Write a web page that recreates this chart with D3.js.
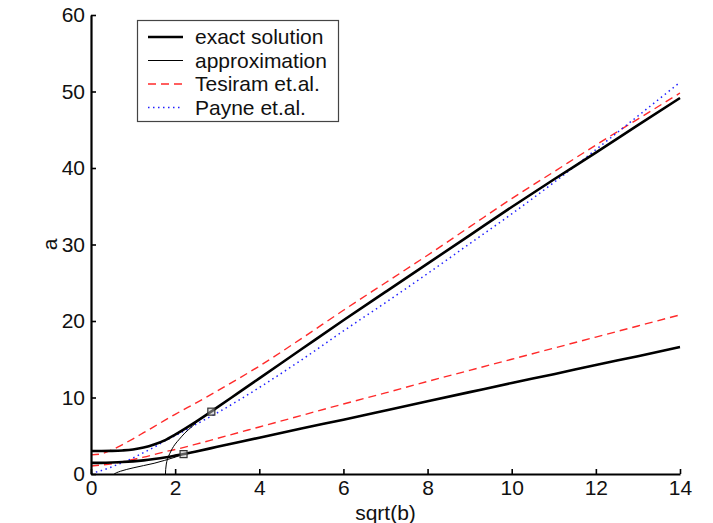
<!DOCTYPE html>
<html><head><meta charset="utf-8">
<script src="https://cdn.jsdelivr.net/npm/d3@7"></script>
<style>
html,body{margin:0;padding:0;background:#fff;}
svg{display:block;font-family:"Liberation Sans",Arial,Helvetica,sans-serif;}
</style></head><body>
<svg id="chart" width="713" height="523"></svg>
<script>
// ---- data ----
const sqrtB = [0,0.25,0.5,0.75,1,1.25,1.5,1.75,2,2.5,3,3.5,4,5,6,7,8,9,10,11,12,13,14];
const exactUpper   = [3.0,3.0,3.02,3.08,3.2,3.45,3.85,4.4,5.15,6.85,8.7,10.6,12.5,16.3,20.1,23.8,27.5,31.2,34.9,38.5,42.0,45.6,49.15];
const exactLower   = [1.45,1.46,1.5,1.56,1.65,1.78,1.95,2.15,2.4,2.95,3.55,4.15,4.75,5.95,7.1,8.3,9.5,10.7,11.9,13.05,14.25,15.4,16.6];
const tesiramUpper = [2.5,2.65,3.15,3.85,4.6,5.4,6.2,7.0,7.8,9.3,10.85,12.45,14.1,17.7,21.4,25.0,28.6,32.3,36.0,39.5,43.0,46.4,49.8];
const tesiramLower = [1.05,1.18,1.35,1.6,1.9,2.2,2.55,2.9,3.2,3.9,4.65,5.4,6.15,7.65,9.15,10.6,12.1,13.55,15.0,16.45,17.9,19.35,20.8];
const payne        = [0.1,0.45,0.95,1.5,2.1,2.8,3.5,4.3,5.0,6.5,8.0,9.6,11.3,14.9,18.7,22.4,26.2,30.1,34.0,38.1,42.4,46.8,51.2];

const approxUpperS = [1.77,1.775,1.79,1.82,1.87,1.93,2.0,2.1,2.23,2.4,2.55,2.7,2.86,3,3.5,4,5,6,7,8,9,10,11,12,13,14];
const approxUpperA = [0,0.6,1.3,2.0,2.65,3.3,3.9,4.55,5.35,6.2,6.95,7.6,8.15,8.7,10.6,12.5,16.3,20.1,23.8,27.5,31.2,34.9,38.5,42.0,45.6,49.15];
const approxLowerS = [0.55,0.6,0.7,0.85,1.0,1.25,1.5,1.75,2.0,2.2,2.5,3,3.5,4,5,6,7,8,9,10,11,12,13,14];
const approxLowerA = [0,0.15,0.36,0.6,0.8,1.1,1.4,1.78,2.2,2.6,2.95,3.55,4.15,4.75,5.95,7.1,8.3,9.5,10.7,11.9,13.05,14.25,15.4,16.6];

const markerS = [2.2, 2.86];
const markerA = [2.6, 8.15];

const xTicks = [0,2,4,6,8,10,12,14];
const yTicks = [0,10,20,30,40,50,60];
const legendLabels = ["exact solution","approximation","Tesiram et.al.","Payne et.al."];
const xLabel = "sqrt(b)";
const yLabel = "a";

// ---- drawing ----
const FS = 21;
const svg = d3.select("#chart");
const x = d3.scaleLinear().domain([0,14]).range([91,680]);
const y = d3.scaleLinear().domain([0,60]).range([474,15]);

const pts = (xs, ys) => xs.map((v,i)=>[v, ys[i]]);
const lineX = d3.line().x(d=>x(d[0])).y(d=>y(d[1])).curve(d3.curveMonotoneX);
const lineY = d3.line().x(d=>x(d[0])).y(d=>y(d[1])).curve(d3.curveMonotoneY);

const plot = svg.append("g");
svg.append("clipPath").attr("id","clip").append("rect")
  .attr("x",x(0)).attr("y",y(60)-2).attr("width",x(14)-x(0)+2).attr("height",y(0)-y(60)+2);
plot.attr("clip-path","url(#clip)");

const styles = {
  exact:  {stroke:"#000", width:2.6, dash:null},
  approx: {stroke:"#000", width:1, dash:null},
  tes:    {stroke:"#ff2a2a", width:1.4, dash:"8,5"},
  payne:  {stroke:"#2020ff", width:1.5, dash:"1.5,3.5"}
};
function draw(data, st, gen){
  plot.append("path").datum(data).attr("d", gen||lineX)
    .attr("fill","none").attr("stroke",st.stroke).attr("stroke-width",st.width)
    .attr("stroke-dasharray",st.dash).attr("stroke-linejoin","round");
}
draw(pts(sqrtB, tesiramUpper), styles.tes);
draw(pts(sqrtB, tesiramLower), styles.tes);
draw(pts(sqrtB, payne), styles.payne);
draw(pts(sqrtB, exactUpper), styles.exact);
draw(pts(sqrtB, exactLower), styles.exact);
draw(pts(approxUpperS, approxUpperA), styles.approx, lineY);
draw(pts(approxLowerS, approxLowerA), styles.approx);

plot.selectAll("rect.mk").data(pts(markerS, markerA)).enter().append("rect")
  .attr("class","mk").attr("x",d=>x(d[0])-3.5).attr("y",d=>y(d[1])-3.5)
  .attr("width",7).attr("height",7).attr("fill","#bbb").attr("fill-opacity",0.5)
  .attr("stroke","#333").attr("stroke-width",1.2);

// axes
const xAxis = d3.axisBottom(x).tickValues(xTicks).tickFormat(d3.format("d"))
  .tickSizeInner(-5).tickSizeOuter(0).tickPadding(6);
const yAxis = d3.axisLeft(y).tickValues(yTicks).tickFormat(d3.format("d"))
  .tickSizeInner(-5).tickSizeOuter(0).tickPadding(6);
const gx = svg.append("g").attr("transform",`translate(0,${y(0)})`).call(xAxis);
const gy = svg.append("g").attr("transform",`translate(${x(0)},0)`).call(yAxis);
[gx,gy].forEach(g=>{
  g.select(".domain").attr("stroke","#000").attr("stroke-width",2.2);
  g.selectAll(".tick line").attr("stroke","#000").attr("stroke-width",1.6);
  g.selectAll(".tick text").attr("font-size",FS).attr("fill","#111")
   .attr("font-family","'Liberation Sans',Arial,sans-serif");
});
gx.selectAll(".tick text").attr("dy","0.72em");

svg.append("text").attr("x",(x(0)+x(14))/2).attr("y",520).attr("text-anchor","middle")
  .attr("font-size",FS).attr("fill","#111").text(xLabel);
svg.append("text").attr("transform",`translate(57,${y(30)}) rotate(-90)`)
  .attr("text-anchor","middle").attr("font-size",FS).attr("fill","#111").text(yLabel);

// legend
const lg = svg.append("g");
lg.append("rect").attr("x",137.5).attr("y",20.5).attr("width",201).attr("height",101)
  .attr("fill","#fff").attr("stroke","#444").attr("stroke-width",1.2);
const legStyles = [styles.exact, styles.approx, styles.tes, styles.payne];
legendLabels.forEach((lab,i)=>{
  const yy = 37 + i*23.5;
  lg.append("line").attr("x1",148).attr("x2",183).attr("y1",yy).attr("y2",yy)
    .attr("stroke",legStyles[i].stroke).attr("stroke-width",legStyles[i].width)
    .attr("stroke-dasharray",legStyles[i].dash);
  lg.append("text").attr("x",195).attr("y",yy).attr("dy","0.35em")
    .attr("font-size",FS).attr("fill","#111").text(lab);
});
</script>
</body></html>
